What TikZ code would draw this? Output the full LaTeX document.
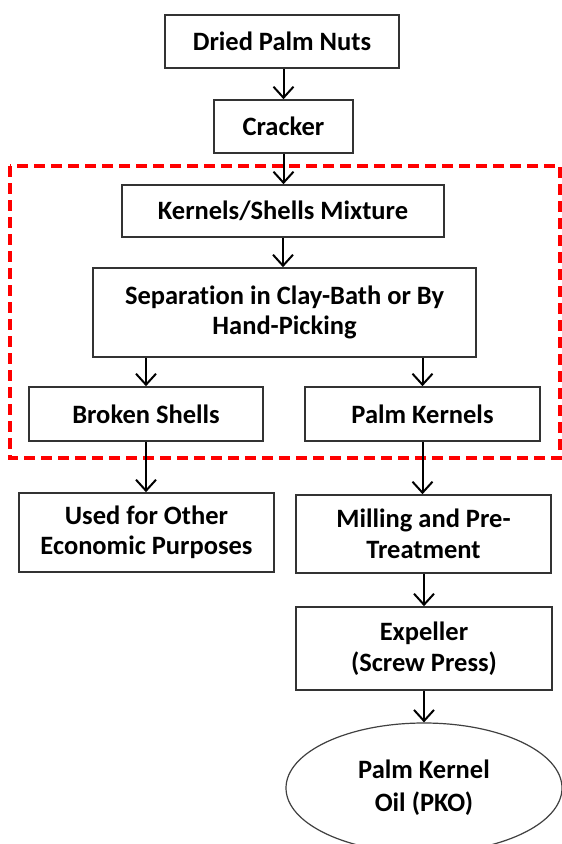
\documentclass[tikz,border=0pt]{standalone}
\usepackage{fontspec}
\setmainfont{Carlito}[Ligatures=NoCommon]
\usetikzlibrary{arrows.meta,shapes.geometric}
\begin{document}
\begin{tikzpicture}[x=1pt,y=-1pt,
  box/.style={draw=black!80,line width=1.6pt,rectangle,inner sep=0pt,align=center,
    font=\fontsize{26.5}{30.5}\selectfont\bfseries},
  oval/.style={draw=black!75,line width=1.2pt,ellipse,inner sep=0pt,align=center,
    font=\fontsize{26.5}{33}\selectfont\bfseries},
  arr/.style={draw=black,line width=2pt,-{Straight Barb[length=11pt,width=20pt,line width=2pt]}},
  group/.style={draw=red,line width=4pt,dash pattern=on 11pt off 6pt}
]
\useasboundingbox (0,0) rectangle (562,844);
\clip (0,0) rectangle (562,844);
\node[box,minimum width=234pt,minimum height=53pt] (dried) at (282,41.5) {Dried Palm Nuts};
\node[box,minimum width=139pt,minimum height=53pt] (cracker) at (283.5,126.5) {Cracker};
\node[box,minimum width=322pt,minimum height=52pt] (mix) at (283,211) {Kernels/Shells Mixture};
\node[box,minimum width=383pt,minimum height=89pt] (sep) at (284.5,312.5) {Separation in Clay-Bath or By\\Hand-Picking};
\node[box,minimum width=234pt,minimum height=54pt] (shells) at (146,414) {Broken Shells};
\node[box,minimum width=235pt,minimum height=54pt] (kern) at (422.5,414) {Palm Kernels};
\node[box,minimum width=255pt,minimum height=79pt] (used) at (146.5,532.5) {Used for Other\\Economic Purposes};
\node[box,minimum width=255pt,minimum height=78pt] (mill) at (423.5,534) {Milling and Pre-\\Treatment};
\node[box,minimum width=256pt,minimum height=83pt] (exp) at (424,648.5) {Expeller\\(Screw Press)};
\node[oval,minimum width=276pt,minimum height=130pt] (pko) at (424,788) {Palm Kernel\\Oil (PKO)};
\draw[group] (10,166) rectangle (560,458);
\draw[arr] (dried.south -| cracker.north) -- (cracker.north);
\draw[arr] (cracker.south) -- (cracker.south |- mix.north);
\draw[arr] (mix.south) -- (mix.south |- sep.north);
\draw[arr] (sep.south -| shells.north) -- (shells.north);
\draw[arr] (sep.south -| kern.north) -- (kern.north);
\draw[arr] (shells.south) -- (used.north -| shells.south);
\draw[arr] (kern.south) -- (mill.north -| kern.south);
\draw[arr] (mill.south -| exp.north) -- (exp.north);
\draw[arr] (exp.south) -- (pko.north);
\end{tikzpicture}
\end{document}
